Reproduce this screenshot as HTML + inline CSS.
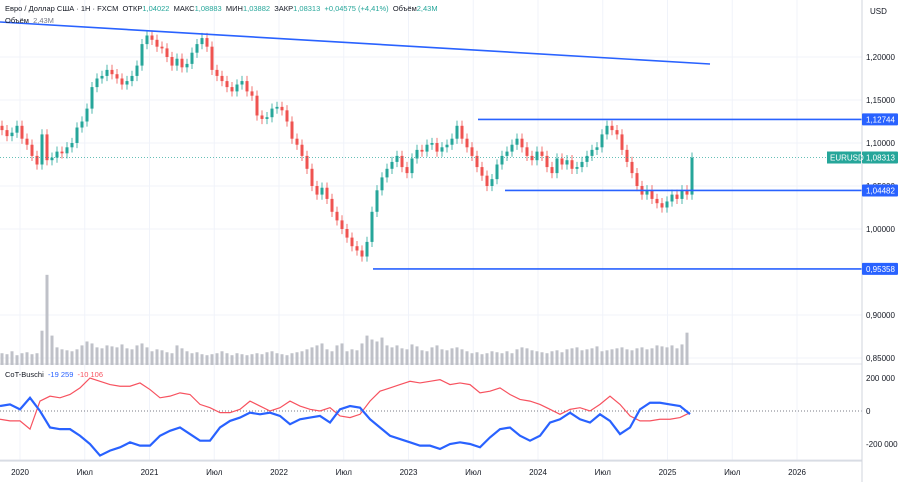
<!DOCTYPE html>
<html><head><meta charset="utf-8">
<style>
body{margin:0;background:#fff;width:900px;height:482px;overflow:hidden;font-family:"Liberation Sans","DejaVu Sans",sans-serif}
svg{display:block}
text{font-family:"Liberation Sans","DejaVu Sans",sans-serif}
</style></head><body>
<svg id="c" width="900" height="482" xmlns="http://www.w3.org/2000/svg">
<rect x="0" y="0" width="900" height="482" fill="#fff"/>
<g id="grid"></g>
<g id="vol"></g>
<g id="candles"></g>
<g id="cot"></g>
<g id="over"></g>
<g id="axes"></g>
</svg>
<script>
// ----- data -----
const closes=[1.115,1.108,1.112,1.120,1.105,1.098,1.085,1.075,1.110,1.080,1.083,1.090,1.088,1.095,1.100,1.118,1.125,1.140,1.165,1.175,1.178,1.185,1.180,1.175,1.168,1.172,1.178,1.190,1.215,1.225,1.220,1.212,1.210,1.200,1.190,1.198,1.188,1.192,1.205,1.215,1.222,1.212,1.185,1.178,1.172,1.165,1.160,1.168,1.172,1.160,1.155,1.132,1.128,1.130,1.140,1.142,1.138,1.125,1.105,1.098,1.085,1.070,1.050,1.040,1.048,1.035,1.020,1.010,1.000,0.990,0.980,0.975,0.968,0.985,1.020,1.045,1.060,1.070,1.078,1.085,1.072,1.065,1.082,1.092,1.090,1.098,1.100,1.090,1.095,1.098,1.105,1.120,1.105,1.095,1.085,1.072,1.062,1.050,1.058,1.075,1.085,1.090,1.098,1.105,1.095,1.085,1.080,1.090,1.085,1.072,1.065,1.082,1.075,1.080,1.070,1.072,1.078,1.085,1.092,1.095,1.110,1.120,1.115,1.110,1.092,1.078,1.065,1.050,1.040,1.045,1.035,1.030,1.025,1.032,1.040,1.035,1.045,1.040,1.083];
const vols=[12,11,14,10,12,13,11,12,35,92,30,18,16,15,14,16,20,24,22,18,17,20,19,18,21,17,16,20,22,18,14,16,15,13,12,20,17,14,12,13,11,10,11,12,14,12,10,12,11,10,11,12,11,13,14,12,11,10,12,13,14,16,18,20,22,16,14,20,22,14,16,15,22,30,26,24,28,20,18,20,17,16,21,19,15,14,18,20,16,15,17,18,16,14,12,13,11,12,14,13,12,14,12,16,18,17,15,14,13,12,14,15,13,16,17,18,15,16,17,19,14,15,16,17,18,16,15,17,18,16,17,20,19,18,20,17,21,33];
const cotBlue=[30,40,10,80,0,-100,-110,-110,-150,-200,-270,-240,-220,-190,-210,-210,-150,-120,-100,-140,-180,-180,-100,-60,-40,-10,-20,-10,-30,-80,-50,-40,-30,-70,10,30,20,-50,-100,-150,-170,-190,-210,-210,-230,-200,-190,-200,-220,-160,-110,-100,-150,-180,-150,-70,-50,-10,-50,-70,-20,-60,-140,-100,10,50,50,40,30,-19];
const cotRed=[-50,-60,-60,-110,60,90,80,100,140,200,180,160,150,150,170,130,80,90,110,100,40,20,-10,-10,10,60,30,0,20,60,30,10,0,20,-30,-40,-20,60,120,140,160,180,170,180,190,160,170,160,110,120,140,100,70,60,40,10,-20,10,20,0,40,90,40,-30,-60,-60,-50,-50,-40,-10];
const priceTicks=[1.20,1.15,1.10,1.05,1.00,0.90,0.85];
const cotTicks=[200000,0,-200000];
const timeLabels=["2020","Июл","2021","Июл","2022","Июл","2023","Июл","2024","Июл","2025","Июл","2026"];
const timeYears=[2020,2020.5,2021,2021.5,2022,2022.5,2023,2023.5,2024,2024.5,2025,2025.5,2026];

// ----- axes -----
const NS="http://www.w3.org/2000/svg";
const py=p=>229-(p-1.0)*860;
const cx=i=>2+i*5;
const cy=v=>411-v/200*33; // v in thousands
const tx=y=>20+(y-2020)*129.5;
function mk(tag,attrs,parent,txt){const e=document.createElementNS(NS,tag);for(const k in attrs)e.setAttribute(k,attrs[k]);if(txt!==undefined)e.textContent=txt;document.getElementById(parent).appendChild(e);return e;}

// grid
priceTicks.forEach(p=>{const l=mk('line',{x1:0,x2:862,y1:py(p),y2:py(p),stroke:'#f0f3fa'},'grid');

});
timeYears.forEach(t=>{const l=mk('line',{x1:tx(t),x2:tx(t),y1:0,y2:460,stroke:'#f0f3fa'},'grid');

});
mk('line',{x1:0,x2:862,y1:364,y2:364,stroke:'#e0e3eb'},'grid');
mk('line',{x1:0,x2:862,y1:460,y2:460,stroke:'#e0e3eb'},'grid');

// volume
vols.forEach((v,i)=>{const h=v*0.98;const r=mk('rect',{x:cx(i)-1.5,y:365-h,width:3,height:h,fill:'#bfc1c8'},'vol');

});

// candles
closes.forEach((c,i)=>{const o=i?closes[i-1]:c+0.005;const up=c>=o;const col=up?'#26a69a':'#ef5350';
const hi=Math.max(o,c)+0.006,lo=Math.min(o,c)-0.006;
const w=mk('line',{x1:cx(i),x2:cx(i),y1:py(hi),y2:py(lo),stroke:col,'stroke-width':1,opacity:0.8},'candles');


const b=mk('rect',{x:cx(i)-1.5,y:py(Math.max(o,c)),width:3,height:Math.max(1,Math.abs(py(o)-py(c))),fill:col},'candles');

});

// cot lines
function path(arr){return arr.map((v,i)=>(i?'L':'M')+(i*10)+','+cy(v)).join(' ');}
mk('line',{x1:0,x2:862,y1:cy(0),y2:cy(0),stroke:'#787b86','stroke-dasharray':'1,2'},'cot');
const pr=mk('path',{d:path(cotRed),fill:'none',stroke:'#f7525f','stroke-width':1.2},'cot');


const pb=mk('path',{d:path(cotBlue),fill:'none',stroke:'#2962ff','stroke-width':2.2},'cot');



// overlays: trendline + levels
let e=mk('line',{x1:0,y1:22,x2:710,y2:64,stroke:'#2962ff','stroke-width':1.6},'over');


[[1.12744,478],[1.04482,505],[0.95358,373]].forEach(([p,x])=>{const l=mk('line',{x1:x,x2:862,y1:py(p),y2:py(p),stroke:'#2962ff','stroke-width':1.6},'over');

});
mk('line',{x1:0,x2:862,y1:py(1.08313),y2:py(1.08313),stroke:'#26a69a','stroke-dasharray':'1,2',opacity:0.7},'over');

// right axis
mk('rect',{x:862,y:0,width:38,height:482,fill:'#fff'},'axes');
mk('line',{x1:862,x2:862,y1:0,y2:482,stroke:'#d1d4dc'},'axes');
mk('line',{x1:0,x2:862,y1:461,y2:461,stroke:'#d1d4dc'},'axes');
priceTicks.forEach(p=>{const t=mk('text',{x:866,y:py(p)+3,'font-size':8,fill:'#131722'},'axes',p.toFixed(5).replace('.',','));

});
cotTicks.forEach(v=>{const t=mk('text',{x:866,y:cy(v/1000)+3,'font-size':8,fill:'#131722'},'axes',v.toString().replace(/\B(?=(\d{3})+(?!\d))/g,' '));

});
timeLabels.forEach((s,i)=>{const t=mk('text',{x:tx(timeYears[i]),y:475,'font-size':8,fill:'#131722','text-anchor':'middle'},'axes',s);

});
mk('text',{x:870,y:14,'font-size':8,fill:'#131722'},'axes','USD');
// price labels
[['1,12744',1.12744,'#2962ff'],['1,04482',1.04482,'#2962ff'],['0,95358',0.95358,'#2962ff'],['1,08313',1.08313,'#26a69a']].forEach(([s,p,c])=>{
const r=mk('rect',{x:862,y:py(p)-6,width:36,height:12,fill:c,rx:1},'axes');


mk('text',{x:866,y:py(p)+3,'font-size':8,fill:'#fff'},'axes',s);});
mk('rect',{x:827,y:py(1.08313)-6,width:34,height:12,fill:'#26a69a'},'axes');
mk('text',{x:830,y:py(1.08313)+3,'font-size':8,fill:'#fff'},'axes','EURUSD');
</script>
<div style="position:absolute;left:5px;top:4px;font-size:7.5px;color:#131722;white-space:nowrap">Евро / Доллар США · 1Н · FXCM&nbsp; ОТКР<span style="color:#26a69a">1,04022</span>&nbsp; МАКС<span style="color:#26a69a">1,08883</span>&nbsp; МИН<span style="color:#26a69a">1,03882</span>&nbsp; ЗАКР<span style="color:#26a69a">1,08313</span>&nbsp; <span style="color:#26a69a">+0,04575 (+4,41%)</span>&nbsp; Объём<span style="color:#26a69a">2,43M</span></div>
<div style="position:absolute;left:5px;top:16px;font-size:7.5px;color:#131722">Объём&nbsp; <span style="color:#787b86">2,43M</span></div>
<div style="position:absolute;left:5px;top:370px;font-size:7.5px;color:#131722">CoT-Buschi&nbsp; <span style="color:#2962ff">-19 259</span>&nbsp; <span style="color:#f7525f">-10 106</span></div>
</body></html>
